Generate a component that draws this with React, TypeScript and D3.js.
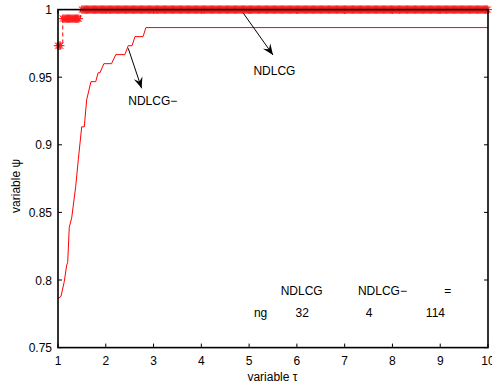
import React from "react";
import * as d3 from "d3";

// NDLCG− performance profile (solid line)
const lineTau = [1, 1.02, 1.063, 1.132, 1.182, 1.203, 1.236, 1.287, 1.37, 1.425, 1.496, 1.55, 1.6, 1.69, 1.79, 1.84, 1.88, 1.96, 2.12, 2.21, 2.4, 2.47, 2.55, 2.61, 2.78, 2.84, 10];
const lineVal = [0.7867, 0.7867, 0.788, 0.799, 0.811, 0.813, 0.839, 0.846, 0.869, 0.889, 0.9133, 0.9133, 0.9333, 0.9467, 0.9467, 0.9533, 0.9533, 0.96, 0.96, 0.9667, 0.9667, 0.9733, 0.9733, 0.98, 0.98, 0.9867, 0.9867];

// NDLCG performance profile (dashed with * markers): step levels
const starLevelStart = [1.0, 1.1, 1.5];
const starLevelEnd = [1.07, 1.44, 10];
const starLevels = [0.9733, 0.9933, 1.0];
const starStepTau = [1.1, 1.47];
const markerSpacing = 0.024;

const xTicks = [1, 2, 3, 4, 5, 6, 7, 8, 9, 10];
const yTicks = [0.75, 0.8, 0.85, 0.9, 0.95, 1];

const tableHeader = ["NDLCG", "NDLCG\u2212", "="];
const tableHeaderTau = [6.1, 7.79, 9.16];
const tableRow = ["ng", "32", "4", "114"];
const tableRowTau = [5.24, 6.11, 7.51, 8.9];

export default function App() {
  const W = 492, H = 387;
  const L = 58, R = 488, T = 9.6, B = 347.6;
  const x = d3.scaleLinear().domain([1, 10]).range([L, R]);
  const y = d3.scaleLinear().domain([0.75, 1]).range([B, T]);
  const font = "'Liberation Sans', Arial, sans-serif";

  const linePath = d3.line<number>().x((_, i) => x(lineTau[i])).y((v) => y(v))(lineVal) || "";

  const stepPts: [number, number][] = [];
  stepPts.push([1, starLevels[0]]);
  stepPts.push([starStepTau[0], starLevels[0]]);
  stepPts.push([starStepTau[0], starLevels[1]]);
  stepPts.push([starStepTau[1], starLevels[1]]);
  stepPts.push([starStepTau[1], starLevels[2]]);
  stepPts.push([10, starLevels[2]]);
  const stepPath = d3.line<[number, number]>().x((d) => x(d[0])).y((d) => y(d[1]))(stepPts) || "";

  const markers: [number, number][] = [];
  starLevels.forEach((lv, i) => {
    for (let t = starLevelStart[i]; t <= starLevelEnd[i] + 1e-9; t += markerSpacing) markers.push([t, lv]);
  });
  const star = "M-4.2,0H4.2M0,-4.2V4.2M-3,-3L3,3M-3,3L3,-3";

  const arrows = [
    { from: [2.47, 0.9714], to: [2.75, 0.9418] },
    { from: [4.88, 0.9973], to: [5.5, 0.9664] },
  ];
  const arrowHead = (x1: number, y1: number, x2: number, y2: number) => {
    const a = Math.atan2(y2 - y1, x2 - x1);
    const len = 11, wid = 4.5, notch = 7;
    const bx = x2 - len * Math.cos(a), by = y2 - len * Math.sin(a);
    const nx = x2 - notch * Math.cos(a), ny = y2 - notch * Math.sin(a);
    const px = -Math.sin(a), py = Math.cos(a);
    return `M${x2},${y2}L${bx + px * wid},${by + py * wid}L${nx},${ny}L${bx - px * wid},${by - py * wid}Z`;
  };

  return (
    <svg width={W} height={H} style={{ position: "fixed", left: 0, top: 0, background: "#fff" }} fontFamily={font}>
      <rect x={0} y={0} width={W} height={H} fill="#fff" />
      {xTicks.map((t) => (
        <g key={"xt" + t}>
          <line x1={x(t)} x2={x(t)} y1={B} y2={B - 4} stroke="#000" />
          <line x1={x(t)} x2={x(t)} y1={T} y2={T + 4} stroke="#000" />
          <text x={x(t)} y={365} fontSize={12} textAnchor="middle" fill="#000">{t}</text>
        </g>
      ))}
      {yTicks.map((t) => (
        <g key={"yt" + t}>
          <line x1={L} x2={L + 4} y1={y(t)} y2={y(t)} stroke="#000" />
          <line x1={R} x2={R - 4} y1={y(t)} y2={y(t)} stroke="#000" />
          <text x={52} y={y(t) + 4.5} fontSize={12} textAnchor="end" fill="#000">{String(t)}</text>
        </g>
      ))}
      <path d={linePath} fill="none" stroke="#ff0000" strokeWidth={1} />
      <path d={stepPath} fill="none" stroke="#ff0000" strokeWidth={1} strokeDasharray="4,3" />
      {markers.map((m, i) => (
        <path key={"m" + i} d={star} transform={`translate(${x(m[0])},${y(m[1])})`} stroke="#ff1a1a" strokeWidth={1} fill="none" />
      ))}
      <rect x={L} y={T} width={R - L} height={B - T} fill="none" stroke="#000" strokeWidth={1.6} />
      {arrows.map((a, i) => {
        const x1 = x(a.from[0]), y1 = y(a.from[1]), x2 = x(a.to[0]), y2 = y(a.to[1]);
        return (
          <g key={"a" + i}>
            <line x1={x1} y1={y1} x2={x2} y2={y2} stroke="#000" strokeWidth={1} />
            <path d={arrowHead(x1, y1, x2, y2)} fill="#000" />
          </g>
        );
      })}
      <text x={x(2.47)} y={y(0.9294)} fontSize={12} fill="#000">NDLCG−</text>
      <text x={x(5.09)} y={y(0.9516)} fontSize={12} fill="#000">NDLCG</text>
      {tableHeader.map((s, i) => (
        <text key={"th" + i} x={x(tableHeaderTau[i])} y={y(0.789)} fontSize={12} textAnchor="middle" fill="#000">{s}</text>
      ))}
      {tableRow.map((s, i) => (
        <text key={"tr" + i} x={x(tableRowTau[i])} y={y(0.773)} fontSize={12} textAnchor="middle" fill="#000">{s}</text>
      ))}
      <text x={272.5} y={381} fontSize={12} textAnchor="middle" fill="#000">variable τ</text>
      <text transform={`translate(20,186) rotate(-90)`} fontSize={12} textAnchor="middle" fill="#000">variable ψ</text>
    </svg>
  );
}
